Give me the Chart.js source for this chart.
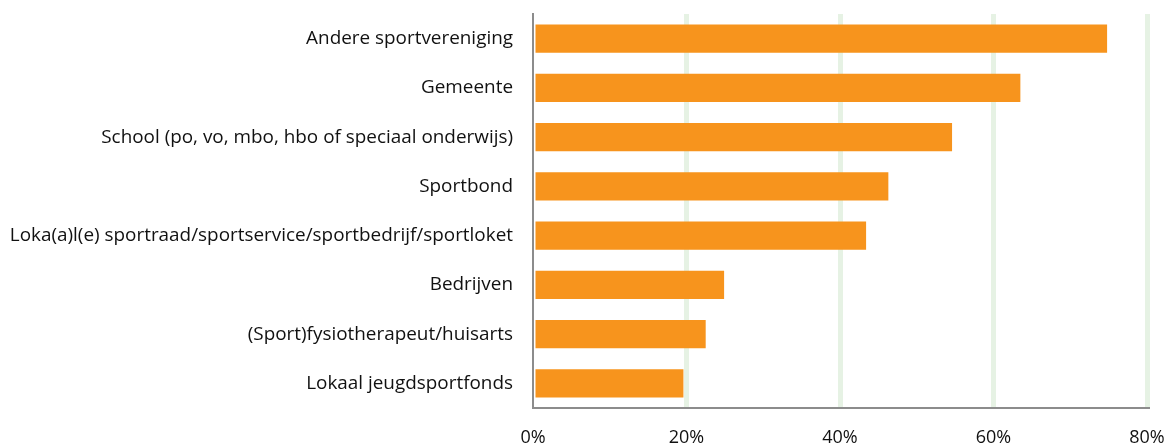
<!DOCTYPE html>
<html>
<head>
<meta charset="utf-8">
<script src="https://cdn.jsdelivr.net/npm/chart.js@4"></script>
<style>
  html, body { margin: 0; padding: 0; background: #ffffff; }
  #wrap { width: 1170px; height: 448px; position: relative; }
</style>
</head>
<body>
<div id="wrap"><canvas id="chart"></canvas></div>
<script>
// Data
const categories = [
    'Andere sportvereniging',
    'Gemeente',
    'School (po, vo, mbo, hbo of speciaal onderwijs)',
    'Sportbond',
    'Loka(a)l(e) sportraad/sportservice/sportbedrijf/sportloket',
    'Bedrijven',
    '(Sport)fysiotherapeut/huisarts',
    'Lokaal jeugdsportfonds'
];
const shares = [74.8, 63.5, 54.6, 46.3, 43.4, 24.9, 22.5, 19.6];
const xTickValues = [0, 20, 40, 60, 80];

const colors = {
    bar: '#F7941D',
    grid: '#e6f2e4',
    axis: '#8c8c8c',
    text: '#111111'
};

const labelFont = { family: '"Open Sans", sans-serif', size: 18.9 };
const tickFont = { family: '"Open Sans", sans-serif', size: 18 };

new Chart(document.getElementById('chart'), {
    type: 'bar',
    data: {
        labels: categories,
        datasets: [{
            data: shares,
            backgroundColor: colors.bar,
            borderWidth: 0,
            barPercentage: 0.57,
            categoryPercentage: 1.0
        }]
    },
    options: {
        indexAxis: 'y',
        responsive: true,
        maintainAspectRatio: false,
        animation: false,
        layout: { padding: { top: 14, right: 23, bottom: 0, left: 0 } },
        plugins: {
            legend: { display: false },
            tooltip: { enabled: false }
        },
        scales: {
            x: {
                min: 0,
                max: 80,
                afterBuildTicks: (scale) => {
                    scale.ticks = xTickValues.map(v => ({ value: v }));
                },
                afterFit: (scale) => {
                    scale.height = 40;
                    // drop the label overhang padding, layout padding handles it
                    scale.paddingLeft = 0;
                    scale.paddingRight = 0;
                },
                ticks: {
                    color: colors.text,
                    font: tickFont,
                    padding: 19,
                    callback: (v) => v + '%'
                },
                grid: {
                    drawTicks: false,
                    lineWidth: 5,
                    color: (ctx) => ctx.index === 0 ? 'rgba(0,0,0,0)' : colors.grid
                },
                border: { display: true, color: colors.axis, width: 2 }
            },
            y: {
                afterFit: (scale) => {
                    scale.width = 533;
                    scale.paddingTop = 0;
                    scale.paddingBottom = 0;
                },
                ticks: {
                    color: colors.text,
                    font: labelFont,
                    padding: 20
                },
                grid: { display: false, drawTicks: false },
                border: { display: true, color: colors.axis, width: 2 }
            }
        }
    }
});
</script>
</body>
</html>
